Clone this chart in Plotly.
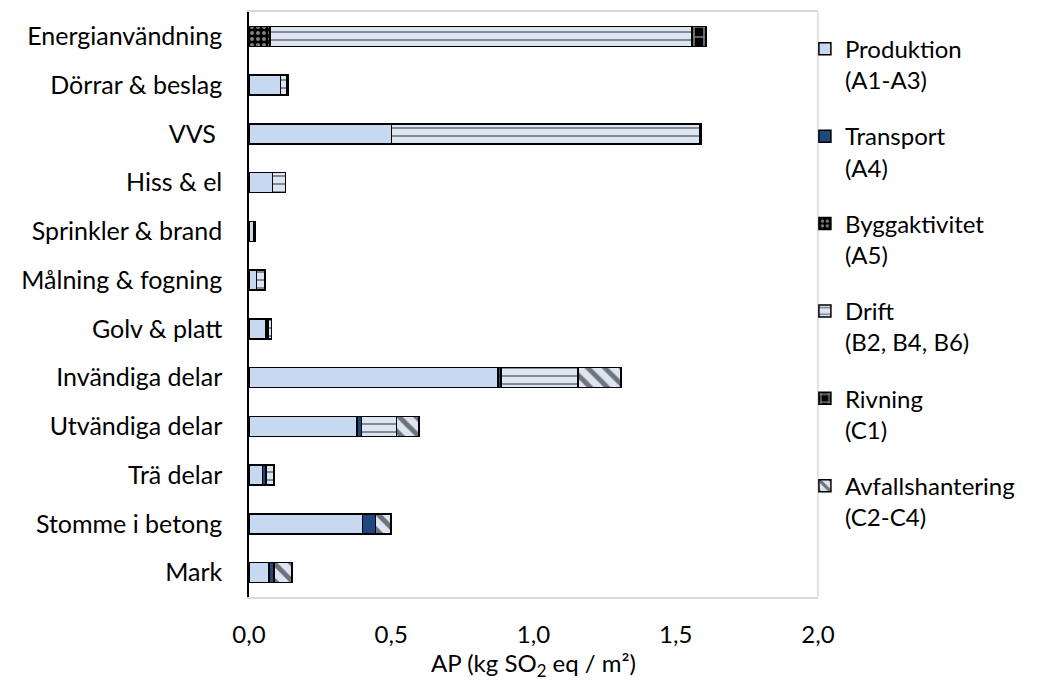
import plotly.graph_objects as go

# Building parts, listed top to bottom as drawn
categories = [
    "Energianvändning", "Dörrar & beslag", "VVS ", "Hiss & el",
    "Sprinkler & brand", "Målning & fogning", "Golv & platt",
    "Invändiga delar", "Utvändiga delar", "Trä delar",
    "Stomme i betong", "Mark",
]

# AP per life-cycle stage (kg SO2 eq / m²)
produktion = [0.0, 0.111, 0.501, 0.082, 0.015, 0.027, 0.059, 0.876, 0.379, 0.048, 0.399, 0.071]
transport = [0.0, 0.0, 0.0, 0.0, 0.002, 0.0, 0.008, 0.010, 0.017, 0.011, 0.046, 0.017]
byggaktivitet = [0.074, 0.0, 0.0, 0.0, 0.0, 0.0, 0.0, 0.0, 0.0, 0.0, 0.0, 0.0]
drift = [1.483, 0.022, 1.084, 0.047, 0.004, 0.030, 0.012, 0.271, 0.123, 0.029, 0.0, 0.0]
rivning = [0.049, 0.006, 0.004, 0.0, 0.0, 0.0, 0.0, 0.0, 0.0, 0.0, 0.0, 0.0]
avfall = [0.0, 0.0, 0.0, 0.0, 0.0, 0.0, 0.0, 0.151, 0.079, 0.0, 0.054, 0.063]

x_ticks = [0.0, 0.5, 1.0, 1.5, 2.0]
x_tick_text = ["0,0", "0,5", "1,0", "1,5", "2,0"]

FONT = "Lato"
FS = 24
LIGHT = "#C6D9F1"
PALE = "#DCE6F2"
DARK = "#1F497D"

series = [
    ("Produktion<br>(A1-A3)", produktion, dict(color=LIGHT)),
    ("Transport<br>(A4)", transport, dict(color=DARK)),
    ("Byggaktivitet<br>(A5)", byggaktivitet,
     dict(color="black", pattern=dict(shape=".", fgcolor="white", bgcolor="black",
                                      size=6, solidity=0.35, fillmode="overlay"))),
    ("Drift<br>(B2, B4, B6)", drift,
     dict(color=PALE, pattern=dict(shape="-", fgcolor="black", bgcolor=PALE,
                                   size=8, solidity=0.2, fillmode="overlay"))),
    ("Rivning<br>(C1)", rivning,
     dict(color="black", pattern=dict(shape="+", fgcolor="white", bgcolor="black",
                                      size=10, solidity=0.3, fillmode="overlay"))),
    ("Avfallshantering<br>(C2-C4)", avfall,
     dict(color=PALE, pattern=dict(shape="\\", fgcolor="black", bgcolor=PALE,
                                   size=12, solidity=0.4, fillmode="overlay"))),
]

fig = go.Figure()
for i, (name, vals, marker) in enumerate(series):
    marker = dict(marker)
    marker["line"] = dict(color="black", width=1.5)
    fig.add_trace(go.Bar(
        y=categories, x=vals, name=name, orientation="h",
        marker=marker, legendgroup=f"g{i}",
    ))

fig.update_layout(
    barmode="stack",
    bargap=0.59,
    width=1039, height=684,
    margin=dict(l=249, r=221, t=10, b=87),
    paper_bgcolor="white", plot_bgcolor="white",
    font=dict(family=FONT, size=FS, color="black"),
    showlegend=True,
    legend=dict(
        x=0.977, xanchor="left", y=0.975, yanchor="top",
        traceorder="grouped", tracegroupgap=22, valign="top",
        font=dict(family=FONT, size=FS), itemwidth=30,
        bgcolor="rgba(0,0,0,0)",
    ),
    xaxis=dict(
        range=[0, 2.0], tickvals=x_ticks, ticktext=x_tick_text,
        showgrid=False, zeroline=False,
        showline=True, linecolor="#d9d9d9", linewidth=1.5, mirror=True,
        ticks="", ticklabelstandoff=15,
        title=dict(text="AP (kg SO<sub>2</sub> eq / m²)", standoff=0,
                   font=dict(family=FONT, size=FS)),
    ),
    yaxis=dict(
        categoryorder="array", categoryarray=categories, autorange="reversed",
        showgrid=False, zeroline=False,
        showline=True, linecolor="black", linewidth=1.5,
        ticks="", ticklabelstandoff=20, tickfont=dict(size=25),
    ),
)

# light frame edge on the right side of the plot area
fig.add_shape(type="line", xref="paper", yref="paper", x0=1, x1=1, y0=0, y1=1,
              line=dict(color="#d9d9d9", width=1.5))

fig.write_html("out.html")
